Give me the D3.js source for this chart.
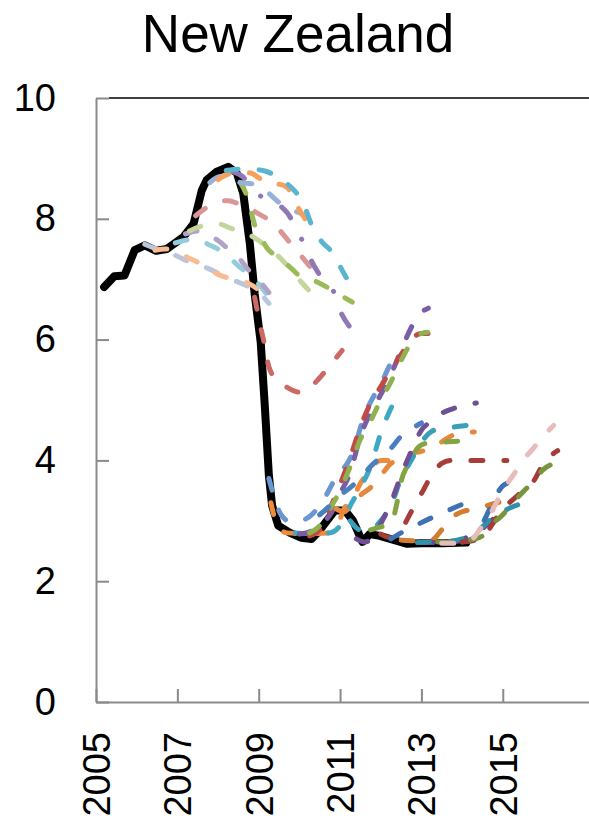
<!DOCTYPE html>
<html><head><meta charset="utf-8">
<script src="https://cdn.jsdelivr.net/npm/d3@7"></script>
<style>body{margin:0;background:#fff}svg{display:block}</style>
</head><body>
<script>
// ---------- DATA ----------
const chartTitle = "New Zealand";
const yTickValues = [0, 2, 4, 6, 8, 10];
const xTickValues = [2005, 2007, 2009, 2011, 2013, 2015];

// actual rate [year, %]
const actual = [[2005.2,6.87],[2005.45,7.05],[2005.7,7.06],[2005.95,7.48],[2006.2,7.56],[2006.48,7.47],[2006.74,7.5],[2007.15,7.7],[2007.4,7.92],[2007.6,8.47],[2007.72,8.64],[2007.97,8.78],[2008.25,8.86],[2008.46,8.76],[2008.62,8.42],[2008.78,7.6],[2008.9,6.76],[2009.05,5.95],[2009.15,4.9],[2009.25,3.75],[2009.33,3.25],[2009.48,2.92],[2009.77,2.8],[2010.05,2.72],[2010.3,2.7],[2010.46,2.81],[2010.87,3.17],[2011.12,3.17],[2011.32,3.0],[2011.55,2.65],[2011.73,2.78],[2011.98,2.75],[2012.38,2.67],[2012.63,2.62],[2013.0,2.63],[2013.5,2.63],[2014.1,2.64]];

// forecast paths [year, %]
const fPaleBlue = [[2006.2,7.58],[2006.5,7.5],[2006.75,7.45],[2007,7.38],[2007.25,7.3],[2007.5,7.24],[2007.75,7.18],[2008,7.1],[2008.25,7.02],[2008.5,6.95],[2008.75,6.88],[2009,6.78],[2009.25,6.6]];
const fPeach = [[2006.45,7.48],[2006.7,7.5],[2007,7.45],[2007.25,7.36],[2007.5,7.28],[2007.75,7.18],[2008,7.08],[2008.25,7.02],[2008.5,6.98],[2008.75,6.93],[2009,6.82],[2009.15,6.72]];
const fLightAqua = [[2006.95,7.6],[2007.25,7.65],[2007.5,7.66],[2007.75,7.58],[2008,7.5],[2008.25,7.38],[2008.5,7.22],[2008.75,7.08],[2009,6.92],[2009.2,6.75]];
const fLavender = [[2007.2,7.75],[2007.5,7.8],[2007.75,7.74],[2008,7.64],[2008.25,7.5],[2008.5,7.36],[2008.75,7.15],[2009,6.98],[2009.25,6.78]];
const fLightGreen = [[2007.3,7.8],[2007.5,7.86],[2007.75,7.9],[2008,7.92],[2008.25,7.86],[2008.5,7.8],[2008.75,7.74],[2009,7.64],[2009.25,7.5],[2009.5,7.37],[2009.8,7.15],[2010.05,6.95],[2010.3,6.77]];
const fRose = [[2007.45,8.05],[2007.75,8.2],[2008,8.28],[2008.25,8.3],[2008.5,8.25],[2008.75,8.18],[2009,8.08],[2009.25,7.98],[2009.5,7.82],[2009.75,7.62],[2010,7.42],[2010.3,7.18]];
const fGreen = [[2008.55,8.6],[2008.75,8.3],[2008.9,7.9],[2009.05,7.7],[2009.2,7.52],[2009.5,7.36],[2009.8,7.18],[2010.05,7.03],[2010.45,6.95],[2010.8,6.82],[2011.05,6.72],[2011.3,6.62]];
const fPurpleDot = [[2008.35,8.78],[2008.6,8.7],[2008.85,8.5],[2009.1,8.35],[2009.4,8.27],[2009.7,8.1],[2010.05,7.67],[2010.3,7.3],[2010.55,7.02],[2010.8,6.86],[2011.0,6.48],[2011.25,6.2]];
const fLightBlue = [[2007.8,8.6],[2008.05,8.7],[2008.3,8.68],[2008.55,8.6],[2008.95,8.57],[2009.2,8.45],[2009.5,8.27],[2009.75,8.15],[2010.0,8.1],[2010.3,7.98]];
const fOrangeLight = [[2008.0,8.65],[2008.25,8.74],[2008.5,8.77],[2008.8,8.76],[2009.0,8.68],[2009.25,8.57],[2009.5,8.57],[2009.7,8.52],[2009.85,8.35],[2010.0,8.15],[2010.25,7.9]];
const fAquaLight = [[2008.2,8.8],[2008.5,8.82],[2008.8,8.82],[2009.1,8.8],[2009.4,8.72],[2009.7,8.58],[2009.9,8.45],[2010.1,8.25],[2010.3,7.9],[2010.55,7.62],[2010.8,7.45],[2011.05,7.15],[2011.3,6.85]];
const fRedLight = [[2008.9,6.7],[2009.05,6.2],[2009.15,5.9],[2009.25,5.55],[2009.45,5.33],[2009.72,5.2],[2010.0,5.13],[2010.2,5.17],[2010.45,5.33],[2010.75,5.57],[2011.05,5.82]];

const fBlueMid = [[2009.25,3.7],[2009.4,3.35],[2009.55,3.1],[2009.8,2.98],[2010.05,3.0],[2010.3,3.1],[2010.55,3.3],[2010.8,3.6],[2010.95,3.8],[2011.15,3.92],[2011.35,4.2],[2011.55,4.65],[2011.7,4.9],[2011.9,5.15],[2012.05,5.33],[2012.2,5.55],[2012.4,5.78]];
const fOrangeA = [[2009.3,3.3],[2009.47,2.9],[2009.7,2.8],[2010,2.79],[2010.3,2.79],[2010.75,2.8],[2010.95,2.95],[2011.1,3.2],[2011.3,3.35],[2011.5,3.62],[2011.7,3.8],[2012.0,4.0],[2012.3,4.0]];
const fAquaA = [[2009.9,2.8],[2010.2,2.79],[2010.5,2.79],[2010.75,2.8],[2011,2.92],[2011.25,3.25],[2011.5,3.55],[2011.75,3.9],[2012,4.45],[2012.35,5.0]];
const fPurpleA = [[2010.0,2.78],[2010.3,2.83],[2010.55,2.95],[2010.8,3.15],[2011,3.45],[2011.25,3.8],[2011.5,4.4],[2011.8,4.85],[2012.05,5.15],[2012.3,5.5],[2012.55,5.9],[2012.75,6.2],[2013,6.45],[2013.17,6.52]];
const fRedA = [[2010.25,2.75],[2010.5,2.85],[2010.75,3.2],[2011,3.6],[2011.25,4.05],[2011.5,4.55],[2011.75,4.95],[2012,5.22],[2012.25,5.5],[2012.5,5.75],[2012.75,6.0],[2013,6.1],[2013.2,6.1]];
const fGreenA = [[2010.25,2.8],[2010.5,2.92],[2010.75,3.2],[2011,3.5],[2011.25,3.9],[2011.5,4.35],[2011.75,4.65],[2012,5.0],[2012.25,5.3],[2012.5,5.65],[2012.75,5.95],[2013,6.1],[2013.15,6.12]];
const fBlueB = [[2010.5,3.1],[2010.75,3.25],[2011,3.42],[2011.25,3.55],[2011.5,3.7],[2011.75,3.9],[2012,4.05],[2012.25,4.2],[2012.5,4.4],[2012.75,4.52],[2013,4.62]];
const fOrangeB = [[2010.9,3.2],[2011.1,3.15],[2011.3,3.3],[2011.55,3.45],[2011.75,3.55],[2011.95,3.7],[2012.25,3.95],[2012.5,4.02],[2012.7,4.1],[2013.0,4.15],[2013.3,4.22],[2013.6,4.35],[2013.9,4.45],[2014.3,4.47]];
const fAquaB = [[2011.25,3.0],[2011.5,2.85],[2011.75,2.85],[2012,3.0],[2012.25,3.25],[2012.5,3.7],[2012.75,4.0],[2013,4.3],[2013.25,4.48],[2013.5,4.53],[2013.75,4.55],[2014,4.57],[2014.2,4.59]];
const fPurpleB = [[2011.4,2.7],[2011.6,2.65],[2011.85,2.75],[2012.0,2.95],[2012.25,3.3],[2012.5,3.75],[2012.75,4.15],[2013.0,4.5],[2013.25,4.65],[2013.5,4.78],[2013.75,4.85],[2014,4.9],[2014.35,4.95]];
const fGreenB = [[2011.75,2.85],[2012,2.9],[2012.25,2.95],[2012.4,3.3],[2012.5,3.65],[2012.75,4.0],[2012.9,4.2],[2013.1,4.28],[2013.5,4.3],[2014,4.32],[2014.35,4.32]];
const fRedB = [[2012.0,2.78],[2012.25,2.72],[2012.5,2.85],[2012.75,3.15],[2013,3.45],[2013.25,3.75],[2013.5,3.95],[2013.75,4.0],[2014,4.0],[2014.5,4.0],[2015,4.0],[2015.1,4.0]];
const fBlueC = [[2012.25,2.7],[2012.5,2.8],[2012.75,2.88],[2013,2.97],[2013.25,3.05],[2013.5,3.12],[2013.75,3.2],[2014,3.27],[2014.3,3.3]];
const fOrangeC = [[2012.5,2.68],[2012.75,2.67],[2013,2.66],[2013.25,2.68],[2013.5,2.85],[2013.75,3.05],[2014,3.15],[2014.4,3.2],[2014.75,3.28],[2015.3,3.35]];
const fPurpleD = [[2013.0,2.64],[2013.5,2.64],[2013.9,2.66],[2014.1,2.72],[2014.3,2.78],[2014.55,2.9],[2014.8,3.05],[2015.0,3.15]];
const fAquaD = [[2012.9,2.64],[2013.3,2.65],[2013.7,2.66],[2014.0,2.7],[2014.3,2.78],[2014.5,2.9],[2014.75,3.05],[2015.0,3.15],[2015.2,3.22],[2015.4,3.27]];
const fBlueD = [[2014.0,2.65],[2014.25,2.7],[2014.5,2.95],[2014.75,3.3],[2015,3.58],[2015.1,3.62]];
const fRedD = [[2014.0,2.65],[2014.25,2.67],[2014.5,2.72],[2014.75,2.95],[2015,3.2],[2015.25,3.35],[2015.5,3.5],[2015.75,3.65],[2016,3.95],[2016.35,4.16]];
const fGreenD = [[2013.4,2.65],[2013.7,2.65],[2014.0,2.66],[2014.25,2.69],[2014.5,2.75],[2014.75,2.95],[2015,3.1],[2015.25,3.3],[2015.5,3.48],[2015.75,3.65],[2016,3.85],[2016.35,3.97]];
const fPinkD = [[2013.5,2.63],[2013.8,2.63],[2014.0,2.64],[2014.25,2.7],[2014.5,2.92],[2014.75,3.18],[2015,3.5],[2015.25,3.75],[2015.5,4.0],[2015.75,4.2],[2016,4.4],[2016.25,4.58]];

// ---------- STYLE ----------
const forecasts = [
  {d: fPaleBlue,   c: "#b9c6df"},
  {d: fPeach,      c: "#f9bb92"},
  {d: fLightAqua,  c: "#93cddd"},
  {d: fLavender,   c: "#b3a2c7"},
  {d: fLightGreen, c: "#c3d69b"},
  {d: fRose,       c: "#d99694"},
  {d: fGreen,      c: "#9bbb59"},
  {d: fPurpleDot,  c: "#8e78b5", dot: true},
  {d: fLightBlue,  c: "#95b3d7"},
  {d: fOrangeLight,c: "#f7a05c"},
  {d: fAquaLight,  c: "#5cb5cf"},
  {d: fRedLight,   c: "#cd6865"},
  {d: fBlueMid,    c: "#6b96d0"},
  {d: fOrangeA,    c: "#ef8b3c"},
  {d: fAquaA,      c: "#3fa8c4"},
  {d: fPurpleA,    c: "#7b5ca6"},
  {d: fRedA,       c: "#bf4a47"},
  {d: fGreenA,     c: "#8fb24f"},
  {d: fBlueB,      c: "#4a7fc0"},
  {d: fOrangeB,    c: "#e5883b"},
  {d: fAquaB,      c: "#3a9fba"},
  {d: fPurpleB,    c: "#6f5097"},
  {d: fGreenB,     c: "#83a443"},
  {d: fRedB,       c: "#a83c39"},
  {d: fBlueC,      c: "#3e72b3"},
  {d: fOrangeC,    c: "#d47c30"},
  {d: fPurpleD,    c: "#684a8e"},
  {d: fAquaD,      c: "#3290a9"},
  {d: fBlueD,      c: "#3d71b1"},
  {d: fRedD,       c: "#a33b38"},
  {d: fGreenD,     c: "#78953d"},
  {d: fPinkD,      c: "#e7bcbb"}
];

const W = 589, H = 826;
const FONT = "'Liberation Sans', Arial, Helvetica, sans-serif";
const svg = d3.select("body").append("svg").attr("width", W).attr("height", H);

const x = d3.scaleLinear().domain([2005, 2017.12]).range([96, 589]);
const y = d3.scaleLinear().domain([0, 10]).range([702, 98]);

// title
svg.append("text").attr("x", 298).attr("y", 52).attr("text-anchor", "middle")
  .attr("font-family", FONT).attr("font-size", 53).attr("fill", "#000").text(chartTitle);

// top line
svg.append("line").attr("x1", x(2005) + 13).attr("x2", W).attr("y1", y(10)).attr("y2", y(10))
  .attr("stroke", "#000").attr("stroke-width", 1.5);

// y axis
const gy = svg.append("g").attr("transform", `translate(${x(2005)},0)`)
  .call(d3.axisLeft(y).tickValues(yTickValues).tickSizeInner(-13).tickSizeOuter(0).tickPadding(40).tickFormat(d3.format("d")));
gy.select(".domain").attr("stroke", "#8a8a8a").attr("stroke-width", 2);
gy.selectAll(".tick line").attr("stroke", "#8a8a8a").attr("stroke-width", 2);
gy.selectAll(".tick text").attr("font-family", FONT).attr("font-size", 38).attr("fill", "#000");

// x axis
const gx = svg.append("g").attr("transform", `translate(0,${y(0)})`)
  .call(d3.axisBottom(x).tickValues(xTickValues).tickSizeInner(-13).tickSizeOuter(0).tickFormat(d3.format("d")));
gx.select(".domain").attr("stroke", "#8a8a8a").attr("stroke-width", 2);
gx.selectAll(".tick line").attr("stroke", "#8a8a8a").attr("stroke-width", 2);
gx.selectAll(".tick text").attr("font-family", FONT).attr("font-size", 38).attr("fill", "#000")
  .attr("transform", "rotate(-90)").attr("text-anchor", "end")
  .attr("x", -30).attr("y", 0).attr("dy", "0.35em");

// actual line
const lineLin = d3.line().x(d => x(d[0])).y(d => y(d[1]));
svg.append("path").datum(actual).attr("d", lineLin)
  .attr("fill", "none").attr("stroke", "#000").attr("stroke-width", 8)
  .attr("stroke-linejoin", "round").attr("stroke-linecap", "round");

// forecasts
const lineSmooth = d3.line().x(d => x(d[0])).y(d => y(d[1])).curve(d3.curveMonotoneX);
svg.append("g").selectAll("path").data(forecasts).join("path")
  .attr("d", f => lineSmooth(f.d))
  .attr("fill", "none").attr("stroke", f => f.c).attr("stroke-width", 5)
  .attr("stroke-linecap", "round").attr("stroke-linejoin", "round")
  .attr("stroke-dasharray", f => f.dot ? "14,24,0.1,24" : "12,21");
</script>
</body></html>
